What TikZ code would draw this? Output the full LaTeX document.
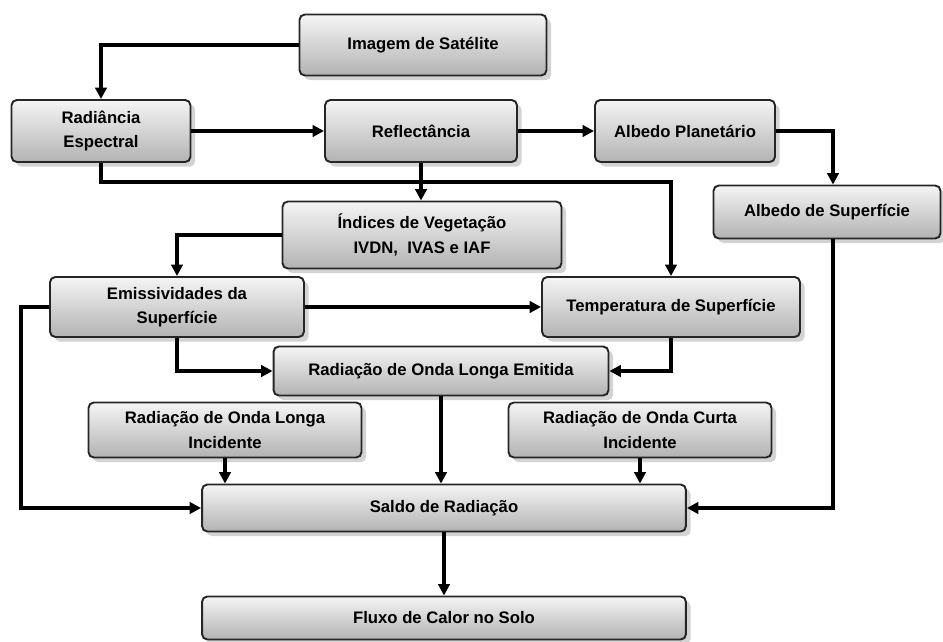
\documentclass[tikz,border=0pt]{standalone}
\usepackage{fontspec}
\setmainfont{Liberation Sans}
\usetikzlibrary{arrows.meta,shadows}

\begin{document}
\begin{tikzpicture}[x=0.02cm,y=-0.02cm,>={Triangle[length=6.5pt,width=6.5pt]},
    main node/.style={rectangle,rounded corners=3pt,draw=black!85,line width=1.1pt,
        top color=gray!8,bottom color=gray!60,drop shadow={opacity=0.35},
        align=center,text=black,font=\fontsize{9.5}{14}\selectfont\bfseries,inner sep=2pt},
    link/.style={->,line width=2pt,black}]

        \useasboundingbox (0,0) rectangle (943,642);

        \node[main node, minimum width=4.94cm, minimum height=1.22cm] (1) at (423,45) {Imagem de Satélite};

        \node[main node, minimum width=3.58cm, minimum height=1.24cm] (2) at (101,131) {Radiância\\Espectral};
        \node[main node, minimum width=3.84cm, minimum height=1.24cm] (3) at (421,131) {Reflectância};
        \node[main node, minimum width=3.6cm, minimum height=1.24cm] (4) at (685,131) {Albedo Planetário};
        \node[main node, minimum width=4.54cm, minimum height=1.06cm] (5) at (827,212) {Albedo de Superfície};

        \node[main node, minimum width=5.58cm, minimum height=1.34cm] (6) at (422,235) {Índices de Vegetação\\IVDN,\ \ IVAS e IAF};
        \node[main node, minimum width=5.08cm, minimum height=1.2cm] (7) at (177,307) {Emissividades da\\Superfície};
        \node[main node, minimum width=5.16cm, minimum height=1.2cm] (8) at (671,307) {Temperatura de Superfície};

        \node[main node, minimum width=6.7cm, minimum height=0.98cm] (9) at (441,371) {Radiação de Onda Longa Emitida};
        \node[main node, minimum width=5.46cm, minimum height=1.1cm] (10) at (225,430) {Radiação de Onda Longa\\Incidente};
        \node[main node, minimum width=5.26cm, minimum height=1.1cm] (11) at (640,430) {Radiação de Onda Curta\\Incidente};

        \node[main node, minimum width=9.68cm, minimum height=0.94cm] (12) at (444,508) {Saldo de Radiação};
        \node[main node, minimum width=9.68cm, minimum height=0.86cm] (13) at (444,618) {Fluxo de Calor no Solo};

        % connectors
        \draw[link] (1.west) -| (2.north);
        \draw[link] (2.east) -- (3.west);
        \draw[link] (3.east) -- (4.west);
        \draw[link] (4.east) -| ([xshift=0.12cm]5.north);
        \draw[link] (2.south) -- ++(0,19) -| (8.north);
        \draw[link] (3.south) -- (3.south |- 6.north);
        \draw[link] (6.west) -| (7.north);
        \draw[link] (7.east) -- (8.west);
        \draw[link] (7.south) |- (9.west);
        \draw[link] (8.south) |- (9.east);
        \draw[link] (9.south) -- (9.south |- 12.north);
        \draw[link] (10.south) -- (10.south |- 12.north);
        \draw[link] (11.south) -- (11.south |- 12.north);
        \draw[link] (7.west) -- ++(-28,0) |- (12.west);
        \draw[link] ([xshift=0.12cm]5.south) |- (12.east);
        \draw[link] (12.south) -- (13.north);
    \end{tikzpicture}
\end{document}
